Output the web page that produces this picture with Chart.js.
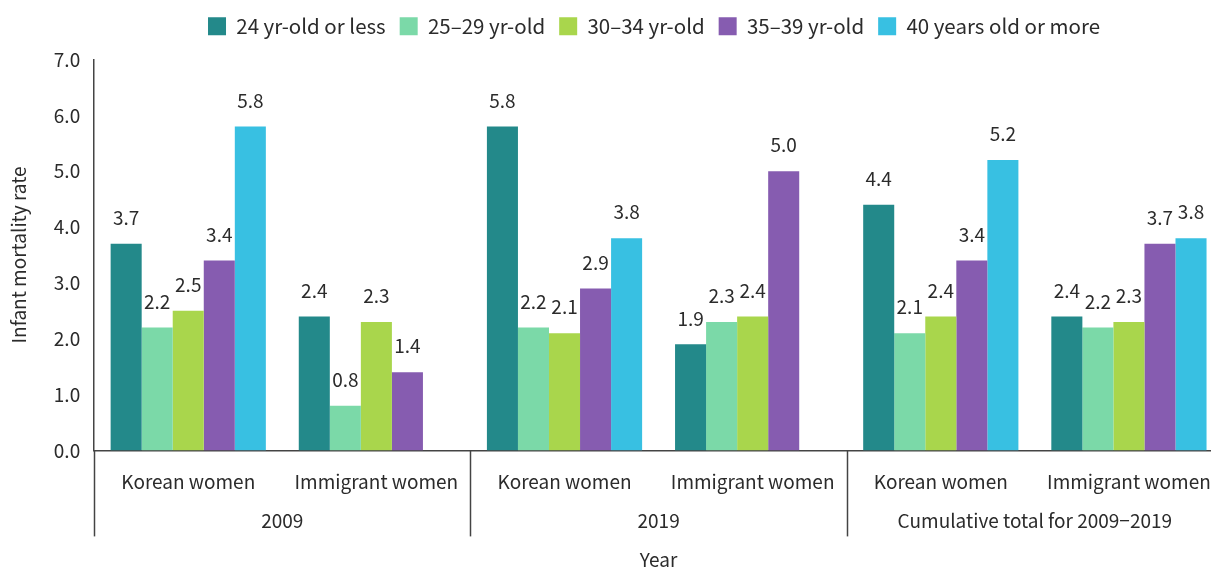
<!DOCTYPE html>
<html>
<head>
<meta charset="utf-8">
<script src="https://cdn.jsdelivr.net/npm/chart.js@4.4.1/dist/chart.umd.min.js"></script>
<style>
  html, body { margin: 0; padding: 0; background: #fff; overflow: hidden; }
  #wrap { width: 1304px; height: 571px; }
</style>
</head>
<body>
<div id="wrap"><canvas id="myChart"></canvas></div>
<script>
const groups = ["Korean women", "Immigrant women", "Korean women", "Immigrant women", "Korean women", "Immigrant women"]
const years = ["2009", "2019", "Cumulative total for 2009\u22122019"]
const seriesNames = ["24 yr-old or less", "25\u201329 yr-old", "30\u201334 yr-old", "35\u201339 yr-old", "40 years old or more"]
const yTicks = [0, 1, 2, 3, 4, 5, 6, 7]

// no 40+ bar for immigrant women in 2009 and 2019
const age24 = [3.7, 2.4, 5.8, 1.9, 4.4, 2.4]
const age25 = [2.2, 0.8, 2.2, 2.3, 2.1, 2.2]
const age30 = [2.5, 2.3, 2.1, 2.4, 2.4, 2.3]
const age35 = [3.4, 1.4, 2.9, 5.0, 3.4, 3.7]
const age40 = [5.8, null, 3.8, null, 5.2, 3.8]

const colors = ['#23898a', '#7bd9a8', '#a9d64c', '#865cb0', '#38c0e2']
const allSeries = [age24, age25, age30, age35, age40]
const textColor = '#2b2b2b'
const fontFamily = '"Noto Sans CJK KR", "Noto Sans", sans-serif'

const valueLabels = {
    id: 'valueLabels',
    afterDatasetsDraw(chart) {
        const ctx = chart.ctx
        ctx.save()
        ctx.font = '19px ' + fontFamily
        ctx.fillStyle = textColor
        ctx.textAlign = 'center'
        ctx.textBaseline = 'middle'
        chart.data.datasets.forEach((ds, i) => {
            const meta = chart.getDatasetMeta(i)
            meta.data.forEach((bar, j) => {
                const v = ds.data[j]
                if (v === null || v === undefined) return
                ctx.fillText(v.toFixed(1), bar.x, bar.y - 26)
            })
        })
        ctx.restore()
    }
}

// taller legend box so the plot starts lower, and nudge it right
const legendSpace = {
    id: 'legendSpace',
    beforeInit(chart) {
        const fit = chart.legend.fit
        chart.legend.fit = function () {
            fit.bind(chart.legend)()
            this.height += 13
        }
    },
    afterLayout(chart) {
        chart.legend.left += 39
        chart.legend.right += 39
    }
}

const yearRow = {
    id: 'yearRow',
    afterDraw(chart) {
        const ctx = chart.ctx
        const x = chart.scales.x
        const area = chart.chartArea
        const step = x.getPixelForValue(1) - x.getPixelForValue(0)
        ctx.save()
        ctx.strokeStyle = '#444'
        ctx.lineWidth = 1.5
        for (let k = 0; k < years.length; k++) {
            const px = Math.round(x.getPixelForValue(k * 2) - step / 2) + 0.5
            ctx.beginPath()
            ctx.moveTo(px, area.bottom)
            ctx.lineTo(px, area.bottom + 86)
            ctx.stroke()
        }
        ctx.font = '19px ' + fontFamily
        ctx.fillStyle = textColor
        ctx.textAlign = 'center'
        ctx.textBaseline = 'middle'
        years.forEach((y, k) => {
            const cx = (x.getPixelForValue(k * 2) + x.getPixelForValue(k * 2 + 1)) / 2
            ctx.fillText(y, cx, area.bottom + 70)
        })
        ctx.restore()
    }
}

const ctx = document.getElementById('myChart')
new Chart(ctx, {
    type: 'bar',
    data: {
        labels: groups,
        datasets: allSeries.map((d, i) => ({
            label: seriesNames[i],
            data: d,
            backgroundColor: colors[i],
            borderWidth: 0,
            categoryPercentage: 0.825,
            barPercentage: 1.0
        }))
    },
    options: {
        responsive: true,
        maintainAspectRatio: false,
        animation: false,
        layout: { padding: { left: 7, right: 81, top: 2, bottom: 0 } },
        plugins: {
            tooltip: { enabled: false },
            legend: {
                position: 'top',
                labels: {
                    boxWidth: 18,
                    boxHeight: 18,
                    padding: 14,
                    color: textColor,
                    font: { family: fontFamily, size: 20.5 }
                }
            }
        },
        scales: {
            x: {
                grid: { display: false, drawTicks: false },
                border: { display: true, color: '#444', width: 1.5 },
                ticks: {
                    color: textColor,
                    padding: 20,
                    font: { family: fontFamily, size: 19 },
                    maxRotation: 0,
                    autoSkip: false
                },
                title: {
                    display: true,
                    text: 'Year',
                    color: textColor,
                    font: { family: fontFamily, size: 19 },
                    padding: { top: 35, bottom: 0 }
                }
            },
            y: {
                min: 0,
                max: 7,
                grid: { display: false, drawTicks: false },
                border: { display: true, color: '#444', width: 1.5 },
                afterBuildTicks(scale) {
                    scale.ticks = yTicks.map(v => ({ value: v }))
                },
                ticks: {
                    color: textColor,
                    padding: 14,
                    font: { family: fontFamily, size: 19 },
                    callback: v => Number(v).toFixed(1)
                },
                title: {
                    display: true,
                    text: 'Infant mortality rate',
                    color: textColor,
                    font: { family: fontFamily, size: 19 },
                    padding: { top: 0, bottom: 10 }
                }
            }
        }
    },
    plugins: [valueLabels, yearRow, legendSpace]
})
</script>
</body>
</html>
